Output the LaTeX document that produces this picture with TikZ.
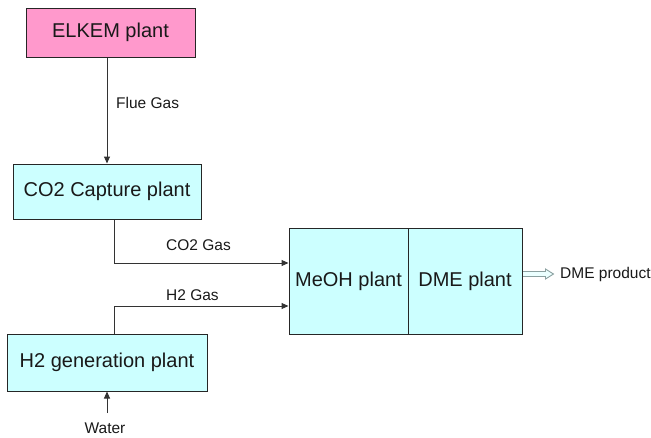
\documentclass[tikz,border=0pt]{standalone}
\usepackage{fontspec}
\setmainfont{Liberation Sans}
\usetikzlibrary{arrows.meta,calc}
\definecolor{pinkfill}{HTML}{FF99CC}
\definecolor{cyanfill}{HTML}{CCFFFF}
\definecolor{linec}{HTML}{333333}
\definecolor{hollowc}{HTML}{8AA0A0}
\begin{document}
\begin{tikzpicture}[x=1pt,y=-1pt,
  plantbox/.style={draw=black!85,line width=1pt,fill=cyanfill,inner sep=0pt,text=black!90,font=\fontsize{20}{24}\selectfont},
  flow/.style={draw=linec,line width=1pt,-{Triangle[length=7pt,width=6pt]}},
  lbl/.style={inner sep=0pt,anchor=base west,text=black!90,font=\fontsize{15.5}{18}\selectfont}]
\useasboundingbox (0,0) rectangle (651,437);
\node[plantbox,fill=pinkfill,minimum width=169pt,minimum height=49pt] (elkem) at (110.5,32.5) {ELKEM plant};
\node[plantbox,minimum width=188pt,minimum height=55pt] (co2) at (107,191.5) {CO2 Capture plant};
\node[plantbox,minimum width=200pt,minimum height=57pt] (h2) at (107,362.5) {H2 generation plant};
\node[plantbox,minimum width=119pt,minimum height=106pt] (meoh) at (348.5,281) {MeOH plant};
\node[plantbox,minimum width=114pt,minimum height=106pt] (dme) at (465,281) {DME plant};
\node[lbl] (flue) at (116,108) {Flue Gas};
\node[lbl] (co2gas) at (166,250) {CO2 Gas};
\node[lbl] (h2gas) at (166,300) {H2 Gas};
\node[lbl] (prod) at (560,278) {DME product};
\node[lbl,anchor=base] (water) at (105,433) {Water};
\coordinate (wsrc) at (107,413);
\draw[flow] (elkem.south -| co2.north) -- (co2.north);
\draw[flow] ([xshift=7pt]co2.south) |- ([yshift=18pt]meoh.west);
\draw[flow] ([xshift=7pt]h2.north) |- ([yshift=-25pt]meoh.west);
\draw[flow] (wsrc) -- (h2.south);
\draw[draw=hollowc,fill=cyanfill!40!white,line width=0.9pt,line join=miter]
  ($(dme.east)+(0.5,-9.5)$) -- ($(dme.east)+(23,-9.5)$) -- ($(dme.east)+(23,-12)$)
  -- ($(dme.east)+(31,-7)$) -- ($(dme.east)+(23,-2)$) -- ($(dme.east)+(23,-4.5)$)
  -- ($(dme.east)+(0.5,-4.5)$);
\end{tikzpicture}
\end{document}
